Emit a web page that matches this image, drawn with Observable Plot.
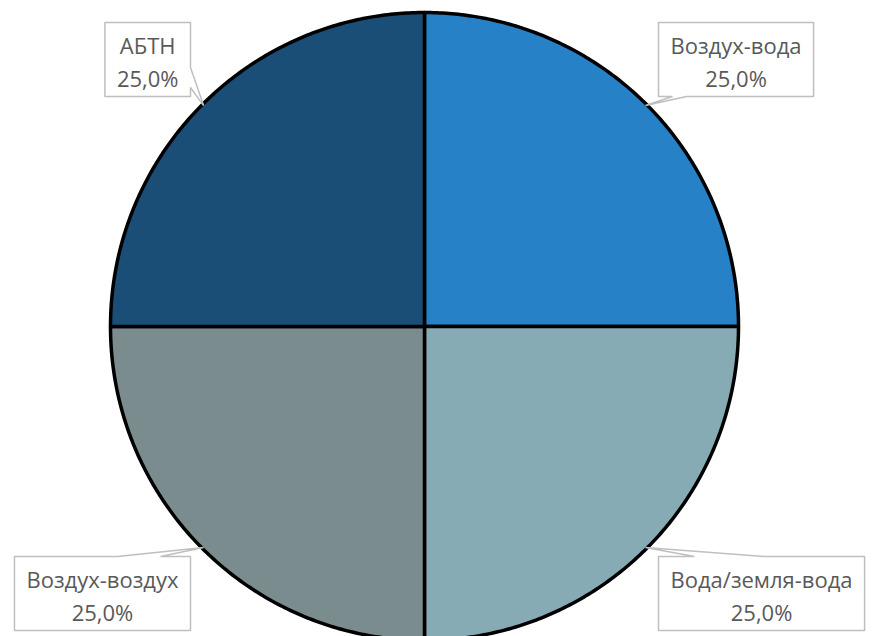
<!DOCTYPE html>
<html>
<head>
<meta charset="utf-8">
<script src="https://cdn.jsdelivr.net/npm/d3@7"></script>
<script src="https://cdn.jsdelivr.net/npm/@observablehq/plot@0.6"></script>
<style>
  body { margin: 0; background: #fff; }
</style>
</head>
<body>
<div id="chart"></div>
<script>
// Heat-pump types, share of the total (%)
const categories = ["Воздух-вода", "Вода/земля-вода", "Воздух-воздух", "АБТН"];
const shares = [25.0, 25.0, 25.0, 25.0];
const sliceColors = ["#2781C6", "#86ABB5", "#7A8C8D", "#1B4E77"];

// ---- layout (pixels) ----
const W = 872, H = 636;
const R = 314;              // pie radius
const CX = 424, CY = 326;   // pie centre
const FONT_SIZE = 22;
const FONT_FAMILY = "'Open Sans', 'Noto Sans', sans-serif";
const PAD = 12;             // horizontal padding inside a label box
const BOX_HALF_H = 37;      // half height of a label box
const LABEL_DX = 234;       // inner box edge, horizontal offset from centre
const LABEL_DY = 267;       // box centre, vertical offset from centre

// data space is the unit circle: one unit = R pixels
const xDomain = [-CX / R, (W - CX) / R];
const yDomain = [-(H - CY) / R, CY / R];
const ux = px => (px - CX) / R;
const uy = py => (CY - py) / R;

const rows = categories.map((c, i) => ({category: c, share: shares[i]}));
const arcs = d3.pie().sort(null).value(d => d.share)(rows);

// slices as closed polygons on the unit circle (clockwise from 12 o'clock)
const slicePts = [];
for (const a of arcs) {
  const n = 160;
  slicePts.push({category: a.data.category, x: 0, y: 0});
  for (let k = 0; k <= n; k++) {
    const t = a.startAngle + (a.endAngle - a.startAngle) * k / n;
    slicePts.push({category: a.data.category, x: Math.sin(t), y: Math.cos(t)});
  }
  slicePts.push({category: a.data.category, x: 0, y: 0});
}

// text widths, for sizing the callout boxes
const ctx = document.createElement("canvas").getContext("2d");
ctx.font = `${FONT_SIZE}px ${FONT_FAMILY}`;
const fmt = v => v.toFixed(1).replace(".", ",") + "%";

// where each callout's pointer leaves its box: edge and span along it (px)
function wedgeFor(sx, sy, box) {
  if (sx > 0 && sy > 0) return {edge: "bottom", a: box.L + 14, b: box.L + 28};
  if (sx > 0 && sy < 0) return {edge: "top", a: box.L + 36, b: box.L + 106};
  if (sx < 0 && sy < 0) return {edge: "top", a: box.R - 73, b: box.R - 30};
  return {edge: "right", a: box.B - 29, b: box.B - 9};
}

function calloutOutline(box, w, tip) {
  const p = [];
  p.push([box.L, box.T]);
  if (w.edge === "top") p.push([w.a, box.T], tip, [w.b, box.T]);
  p.push([box.R, box.T]);
  if (w.edge === "right") p.push([box.R, w.a], tip, [box.R, w.b]);
  p.push([box.R, box.B]);
  if (w.edge === "bottom") p.push([w.b, box.B], tip, [w.a, box.B]);
  p.push([box.L, box.B]);
  p.push([box.L, box.T]);
  return p;
}

const labels = [];
const calloutPts = [];
for (const a of arcs) {
  const mid = (a.startAngle + a.endAngle) / 2;
  const sx = Math.sign(Math.sin(mid)), sy = Math.sign(Math.cos(mid));
  const text = `${a.data.category}\n${fmt(a.data.share)}`;
  const tw = Math.max(...text.split("\n").map(s => ctx.measureText(s).width));
  const inner = CX + sx * LABEL_DX;
  const outer = inner + sx * (tw + 2 * PAD);
  const cy = CY - sy * LABEL_DY;
  const box = {L: Math.min(inner, outer), R: Math.max(inner, outer), T: cy - BOX_HALF_H, B: cy + BOX_HALF_H};
  const tip = [CX + R * 0.995 * Math.sin(mid), CY - R * 0.995 * Math.cos(mid)];
  for (const [px, py] of calloutOutline(box, wedgeFor(sx, sy, box), tip)) {
    calloutPts.push({category: a.data.category, x: ux(px), y: uy(py)});
  }
  labels.push({text, x: ux((box.L + box.R) / 2), y: uy(cy)});
}

const chart = Plot.plot({
  width: W,
  height: H,
  margin: 0,
  x: {domain: xDomain, axis: null},
  y: {domain: yDomain, axis: null},
  color: {domain: categories, range: sliceColors},
  style: {background: "white", overflow: "hidden"},
  marks: [
    Plot.line(slicePts, {
      x: "x", y: "y", z: "category", fill: "category",
      stroke: "black", strokeWidth: 3.5, strokeLinejoin: "round", curve: "linear"
    }),
    Plot.line(calloutPts, {
      x: "x", y: "y", z: "category", fill: "white",
      stroke: "#BFBFBF", strokeWidth: 1.5, strokeLinejoin: "miter", curve: "linear"
    }),
    Plot.text(labels, {
      x: "x", y: "y", text: "text",
      fontSize: FONT_SIZE, fontFamily: FONT_FAMILY, fill: "#595959",
      lineHeight: 1.5, lineAnchor: "middle", textAnchor: "middle"
    })
  ]
});
document.getElementById("chart").append(chart);
</script>
</body>
</html>
